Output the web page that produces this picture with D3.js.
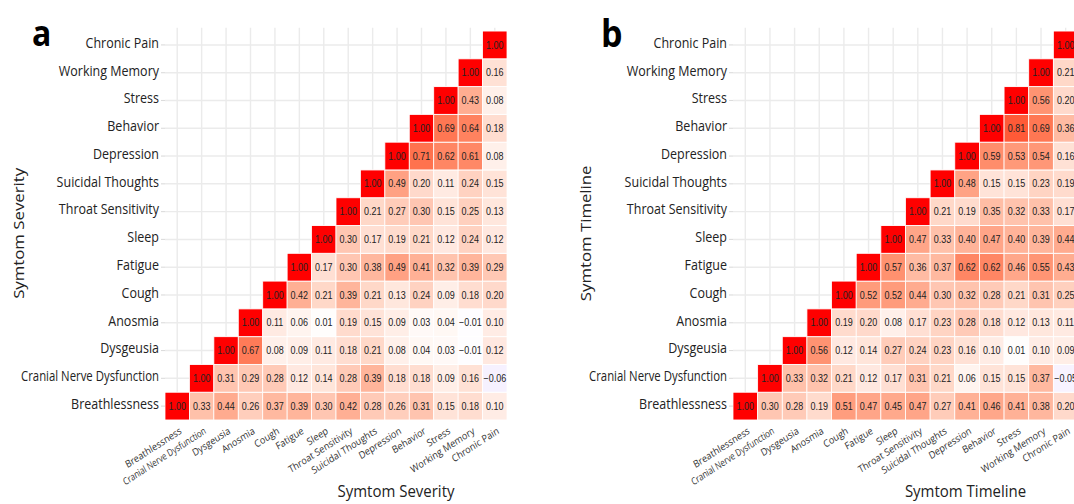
<!DOCTYPE html>
<html>
<head>
<meta charset="utf-8">
<script src="https://cdn.jsdelivr.net/npm/d3@7"></script>
<style>
  body { margin: 0; background: #fff; }
  svg { display: block; }
</style>
</head>
<body>
<div id="root"></div>
<script>
const width = 1074
const height = 504
// the published figure is stretched vertically; draw at native size and stretch the group
const stretch = 1.12

const symptoms = ['Breathlessness', 'Cranial Nerve Dysfunction', 'Dysgeusia', 'Anosmia', 'Cough',
  'Fatigue', 'Sleep', 'Throat Sensitivity', 'Suicidal Thoughts', 'Depression', 'Behavior',
  'Stress', 'Working Memory', 'Chronic Pain']

// row i = correlation of symptoms[i] with symptoms[i], symptoms[i+1], ... (upper triangle)
const severity = [
  [1.00, 0.33, 0.44, 0.26, 0.37, 0.39, 0.30, 0.42, 0.28, 0.26, 0.31, 0.15, 0.18, 0.10],
  [1.00, 0.31, 0.29, 0.28, 0.12, 0.14, 0.28, 0.39, 0.18, 0.18, 0.09, 0.16, -0.06],
  [1.00, 0.67, 0.08, 0.09, 0.11, 0.18, 0.21, 0.08, 0.04, 0.03, -0.01, 0.12],
  [1.00, 0.11, 0.06, 0.01, 0.19, 0.15, 0.09, 0.03, 0.04, -0.01, 0.10],
  [1.00, 0.42, 0.21, 0.39, 0.21, 0.13, 0.24, 0.09, 0.18, 0.20],
  [1.00, 0.17, 0.30, 0.38, 0.49, 0.41, 0.32, 0.39, 0.29],
  [1.00, 0.30, 0.17, 0.19, 0.21, 0.12, 0.24, 0.12],
  [1.00, 0.21, 0.27, 0.30, 0.15, 0.25, 0.13],
  [1.00, 0.49, 0.20, 0.11, 0.24, 0.15],
  [1.00, 0.71, 0.62, 0.61, 0.08],
  [1.00, 0.69, 0.64, 0.18],
  [1.00, 0.43, 0.08],
  [1.00, 0.16],
  [1.00]
]

const timeline = [
  [1.00, 0.30, 0.28, 0.19, 0.51, 0.47, 0.45, 0.47, 0.27, 0.41, 0.46, 0.41, 0.38, 0.20],
  [1.00, 0.33, 0.32, 0.21, 0.12, 0.17, 0.31, 0.21, 0.06, 0.15, 0.15, 0.37, -0.05],
  [1.00, 0.56, 0.12, 0.14, 0.27, 0.24, 0.23, 0.16, 0.10, 0.01, 0.10, 0.09],
  [1.00, 0.19, 0.20, 0.08, 0.17, 0.23, 0.28, 0.18, 0.12, 0.13, 0.11],
  [1.00, 0.52, 0.52, 0.44, 0.30, 0.32, 0.28, 0.21, 0.31, 0.25],
  [1.00, 0.57, 0.36, 0.37, 0.62, 0.62, 0.46, 0.55, 0.43],
  [1.00, 0.47, 0.33, 0.40, 0.47, 0.40, 0.39, 0.44],
  [1.00, 0.21, 0.19, 0.35, 0.32, 0.33, 0.17],
  [1.00, 0.48, 0.15, 0.15, 0.23, 0.19],
  [1.00, 0.59, 0.53, 0.54, 0.16],
  [1.00, 0.81, 0.69, 0.36],
  [1.00, 0.56, 0.20],
  [1.00, 0.21],
  [1.00]
]

const svg = d3.select('#root').append('svg')
  .attr('width', width)
  .attr('height', height)
  .append('g')
  .attr('transform', `scale(1,${stretch})`)

const fill = d3.scaleLinear()
  .domain([-1, 0, 1])
  .range(['blue', 'white', 'red'])
  .interpolate(d3.interpolateLab)

const fmt = d3.format('.2f')

const plotTop = 27.7, plotBottom = 375

drawPanel({ data: severity, x0: 165, x1: 507, tag: 'a', tagX: 32, tagY: 41, tagSize: 32,
  title: 'Symtom Severity', yTitleX: 24 })
drawPanel({ data: timeline, x0: 733, x1: 1078, tag: 'b', tagX: 601, tagY: 42, tagSize: 34,
  title: 'Symtom Timeline', yTitleX: 591 })

// squeeze a label that runs longer than the space it had in the figure
function squeeze(sel, maxLen) {
  sel.each(function () {
    if (this.getComputedTextLength() > maxLen) {
      d3.select(this).attr('textLength', maxLen).attr('lengthAdjust', 'spacingAndGlyphs')
    }
  })
}

function drawPanel(p) {
  const g = svg.append('g')

  const x = d3.scaleBand().domain(symptoms).range([p.x0, p.x1])
  const y = d3.scaleBand().domain(symptoms).range([plotBottom, plotTop])

  const cells = []
  p.data.forEach((row, i) => {
    row.forEach((v, k) => cells.push({ r: symptoms[i], c: symptoms[i + k], v }))
  })

  // grid
  g.append('g').selectAll('line')
    .data(symptoms)
  .enter().append('line')
    .attr('x1', d => x(d) + x.bandwidth() / 2)
    .attr('x2', d => x(d) + x.bandwidth() / 2)
    .attr('y1', plotTop - 3)
    .attr('y2', plotBottom)
    .attr('stroke', '#ebebeb')
    .attr('stroke-width', 1.4)

  g.append('g').selectAll('line')
    .data(symptoms)
  .enter().append('line')
    .attr('x1', p.x0)
    .attr('x2', p.x1)
    .attr('y1', d => y(d) + y.bandwidth() / 2)
    .attr('y2', d => y(d) + y.bandwidth() / 2)
    .attr('stroke', '#ebebeb')
    .attr('stroke-width', 1.3)

  // tiles
  g.append('g').selectAll('rect')
    .data(cells)
  .enter().append('rect')
    .attr('x', d => x(d.c))
    .attr('y', d => y(d.r))
    .attr('width', x.bandwidth())
    .attr('height', y.bandwidth())
    .attr('fill', d => fill(d.v))
    .attr('stroke', 'white')
    .attr('stroke-width', 0.8)

  g.append('g').selectAll('text')
    .data(cells)
  .enter().append('text')
    .attr('x', d => x(d.c) + x.bandwidth() / 2)
    .attr('y', d => y(d.r) + y.bandwidth() / 2)
    .attr('dy', '0.36em')
    .attr('text-anchor', 'middle')
    .style('font-family', '"Liberation Sans", Arial, sans-serif')
    .style('font-size', '9px')
    .style('fill', '#222')
    .text(d => fmt(d.v))

  // y axis
  const yAxis = g.append('g')
    .attr('transform', `translate(${p.x0},0)`)
    .call(d3.axisLeft(y).tickSize(4).tickPadding(2))
  yAxis.select('.domain').remove()
  yAxis.selectAll('.tick line').attr('stroke', '#dcdcdc')
  yAxis.selectAll('.tick text')
    .attr('dy', '0.2em')
    .style('font-family', '"Open Sans", sans-serif')
    .style('font-size', '12.5px')
    .style('fill', '#222')
    .call(squeeze, 138)

  // x axis
  const xAxis = g.append('g')
    .attr('transform', `translate(0,${plotBottom})`)
    .call(d3.axisBottom(x).tickSize(0))
  xAxis.select('.domain').remove()
  xAxis.selectAll('.tick text')
    .attr('x', 0)
    .attr('y', 0)
    .attr('dy', 0)
    .attr('text-anchor', 'end')
    .attr('transform', 'translate(5,11.5) rotate(-30)')
    .style('font-family', '"Open Sans", sans-serif')
    .style('font-size', '9px')
    .style('fill', '#333')
    .call(squeeze, 94)

  // titles
  g.append('text')
    .attr('x', (p.x0 + p.x1) / 2 + 60)
    .attr('y', 444)
    .attr('text-anchor', 'middle')
    .style('font-family', '"Open Sans", sans-serif')
    .style('font-size', '15px')
    .style('fill', '#222')
    .text(p.title)

  g.append('text')
    .attr('transform', `translate(${p.yTitleX},${(plotTop + plotBottom) / 2 + 7}) rotate(-90)`)
    .attr('text-anchor', 'middle')
    .style('font-family', '"Open Sans", sans-serif')
    .style('font-size', '15px')
    .style('fill', '#222')
    .text(p.title)

  g.append('text')
    .attr('x', p.tagX)
    .attr('y', p.tagY)
    .style('font-family', '"Open Sans", sans-serif')
    .style('font-weight', 'bold')
    .style('font-size', p.tagSize + 'px')
    .style('fill', '#000')
    .text(p.tag)
}
</script>
</body>
</html>
